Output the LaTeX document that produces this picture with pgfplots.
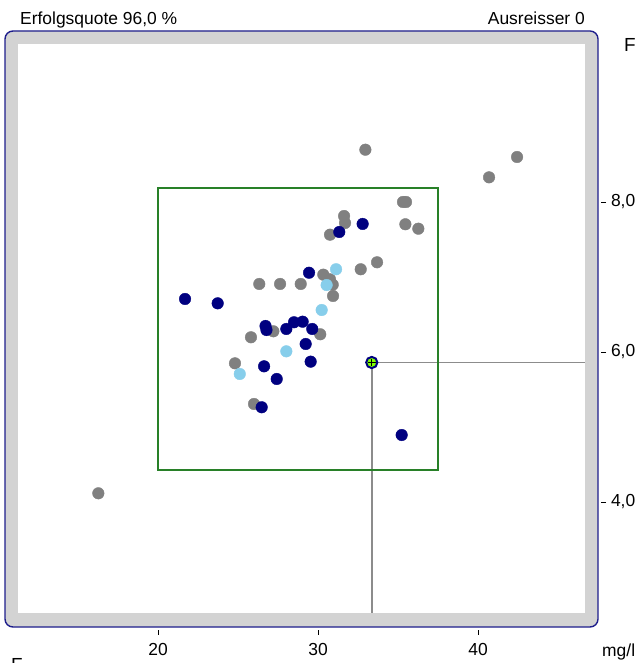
\documentclass[border=0pt]{standalone}
\usepackage{pgfplots}
\pgfplotsset{compat=1.18}
\usepackage{fontspec}
\setmainfont{Liberation Sans}

\definecolor{ptgray}{RGB}{128,128,128}
\definecolor{ptnavy}{RGB}{0,0,128}
\definecolor{ptsky}{RGB}{135,206,235}
\definecolor{boxgreen}{RGB}{40,128,40}
\definecolor{bandgray}{RGB}{211,211,211}
\definecolor{framenavy}{RGB}{30,30,140}
\definecolor{hitgreen}{RGB}{127,255,0}
\definecolor{guidegray}{RGB}{140,140,140}

\newcommand{\lblfont}{\fontsize{17.5}{20}\selectfont}

\begin{document}
\begin{tikzpicture}[x=1bp,y=1bp]
\useasboundingbox (0,0) rectangle (638,663);
\begin{axis}[
  at={(5bp,33bp)}, anchor=south west,
  scale only axis, width=596bp, height=599bp,
  xmin=10.4375, xmax=47.6875, ymin=2.29333, ymax=10.28,
  clip=false,
  axis line style={draw=none},
  xtick={20,30,40}, ytick={4,6,8},
  xtick pos=left, ytick pos=right, yticklabel pos=right,
  tick align=outside, major tick length=5bp,
  tick style={black, line width=0.8bp},
  ticklabel style={font=\lblfont},
  yticklabel style={xshift=1.5bp},
  xticklabel style={yshift=-5bp},
  /pgf/number format/assume math mode=true,
  yticklabel style={/pgf/number format/.cd, fixed, fixed zerofill, precision=1, use comma},
  xticklabel style={/pgf/number format/.cd, fixed, precision=0},
  only marks,
]
% panel: rounded navy outline, grey band, white plotting field
\draw[framenavy, line width=1.4bp, fill=bandgray, rounded corners=8bp]
  (axis cs:10.4375,2.3333) rectangle (axis cs:47.5,10.28);
\fill[white] (axis cs:11.25,2.52) rectangle (axis cs:46.6875,10.107);
% guide lines from the highlighted sample to the field edges
\draw[guidegray, line width=1.5bp] (axis cs:33.36,5.86) -- (axis cs:46.6875,5.86);
\draw[guidegray, line width=1.5bp] (axis cs:33.36,5.86) -- (axis cs:33.36,2.52);
% acceptance box
\draw[boxgreen, line width=1.8bp] (axis cs:20,4.427) rectangle (axis cs:37.5,8.187);

\addplot[mark=*, mark size=5.8bp, draw=ptgray, fill=ptgray] coordinates {
(32.96,8.697) (42.44,8.600) (40.69,8.329) (35.31,8.000) (35.50,8.000)
(31.63,7.813) (31.69,7.720) (30.75,7.564) (35.46,7.703) (36.27,7.644)
(33.69,7.196) (32.67,7.103) (30.33,7.031) (30.75,6.969) (30.92,6.897)
(26.33,6.907) (27.63,6.907) (28.92,6.907) (30.94,6.747) (27.21,6.276)
(30.14,6.236) (25.81,6.196) (24.81,5.849) (26.00,5.307) (16.27,4.116)
};
\addplot[mark=*, mark size=5.8bp, draw=ptnavy, fill=ptnavy] coordinates {
(32.79,7.707) (31.33,7.600) (29.44,7.057) (21.69,6.707) (23.73,6.649)
(26.72,6.347) (26.78,6.293) (28.02,6.307) (28.50,6.396) (29.04,6.404)
(29.64,6.307) (29.23,6.107) (26.63,5.809) (29.54,5.871) (27.42,5.640)
(26.48,5.263) (35.23,4.893)
};
\addplot[mark=*, mark size=5.8bp, draw=ptsky, fill=ptsky] coordinates {
(31.13,7.103) (30.54,6.893) (30.23,6.560) (28.02,6.009) (25.11,5.707)
};
% highlighted sample
\addplot[mark=*, mark size=5.6bp, mark options={draw=ptnavy, fill=hitgreen, line width=2bp}] coordinates {(33.36,5.86)};
\addplot[mark=+, mark size=3.8bp, mark options={draw=black, line width=1.3bp}] coordinates {(33.36,5.86)};
\end{axis}
\node[anchor=base west, inner sep=0, font=\lblfont] at (20,638) {Erfolgsquote 96,0 \%};
\node[anchor=base east, inner sep=0, font=\lblfont] at (585,638) {Ausreisser 0};
\node[anchor=base west, inner sep=0, font=\fontsize{19}{22}\selectfont] at (624,611) {F};
\node[anchor=base west, inner sep=0, font=\lblfont] at (602,6) {mg/l};
\node[anchor=north west, inner sep=0, font=\fontsize{19}{22}\selectfont] at (11,4.5) {F};
\end{tikzpicture}
\end{document}
